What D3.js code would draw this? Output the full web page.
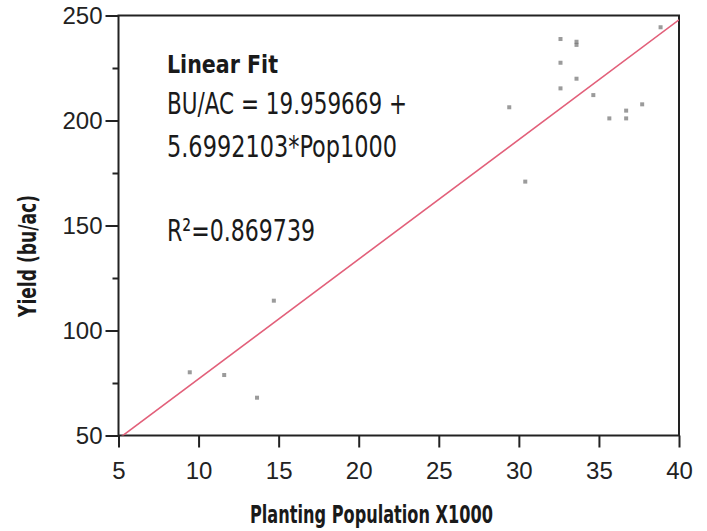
<!DOCTYPE html>
<html>
<head>
<meta charset="utf-8">
<script src="https://cdnjs.cloudflare.com/ajax/libs/d3/7.8.5/d3.min.js"></script>
<style>
  body { margin: 0; background: #fff; }
  .tickText { font-family: "Liberation Sans", Arial, sans-serif; font-size: 24px; fill: #222; }
  .narrow { font-family: "Liberation Sans Narrow", "DejaVu Sans Condensed", sans-serif; fill: #1a1a1a; }
</style>
</head>
<body>
<div id="scatter"></div>
<script>
// data
var popX = [9.45, 11.6, 13.65, 14.7, 29.4, 30.4, 32.6, 32.6, 32.6, 33.6, 33.6, 33.6, 34.65, 35.65, 36.7, 36.7, 37.7, 38.85];
var yieldY = [80.1, 78.8, 68.0, 114.2, 206.3, 170.9, 238.8, 227.5, 215.3, 237.5, 236.0, 219.9, 212.1, 201.0, 204.7, 201.0, 207.7, 244.4];

// fit from the annotation
var fitIntercept = 19.959669;
var fitSlope = 5.6992103;

var xTicks = [5, 10, 15, 20, 25, 30, 35, 40];
var yTicks = [50, 100, 150, 200, 250];
var yMinorTicks = [75, 125, 175, 225];

var svgWidth = 707;
var svgHeight = 531;

var margin = { top: 15.5, right: 28, bottom: 95.5, left: 118.5 };
var chartWidth = svgWidth - margin.left - margin.right;
var chartHeight = svgHeight - margin.top - margin.bottom;

var svg = d3.select("#scatter")
    .append("svg")
    .attr("width", svgWidth)
    .attr("height", svgHeight);

var chartGroup = svg.append("g")
    .attr("transform", `translate(${margin.left}, ${margin.top})`);

var xScale = d3.scaleLinear().domain([5, 40]).range([0, chartWidth]);
var yScale = d3.scaleLinear().domain([50, 250]).range([chartHeight, 0]);

// clip for the fit line
chartGroup.append("clipPath")
    .attr("id", "plotClip")
    .append("rect")
    .attr("width", chartWidth)
    .attr("height", chartHeight);

// axes
var xAxis = d3.axisBottom(xScale).tickValues(xTicks).tickSize(12).tickPadding(14.5).tickSizeOuter(0);
var yAxis = d3.axisLeft(yScale).tickValues(yTicks).tickSize(13).tickPadding(3).tickSizeOuter(0);
var yMinor = d3.axisLeft(yScale).tickValues(yMinorTicks).tickSize(6).tickFormat("").tickSizeOuter(0);

var gx = chartGroup.append("g")
    .attr("transform", `translate(0, ${chartHeight})`)
    .call(xAxis);
var gy = chartGroup.append("g").call(yAxis);
var gyMinor = chartGroup.append("g").call(yMinor);

[gx, gy, gyMinor].forEach(function (g) {
    g.select(".domain").remove();
    g.selectAll("line").attr("stroke", "#222").attr("stroke-width", 2);
    g.selectAll("text").attr("class", "tickText").attr("font-size", null).attr("font-family", null);
});

// frame round the plot
chartGroup.append("rect")
    .attr("width", chartWidth)
    .attr("height", chartHeight)
    .attr("fill", "none")
    .attr("stroke", "#222")
    .attr("stroke-width", 2);

// fit line
var fitLine = d3.line()
    .x(d => xScale(d))
    .y(d => yScale(fitIntercept + fitSlope * d));

chartGroup.append("path")
    .datum(xScale.domain())
    .attr("d", fitLine)
    .attr("clip-path", "url(#plotClip)")
    .attr("fill", "none")
    .attr("stroke", "#e2607a")
    .attr("stroke-width", 1.6);

// points
chartGroup.selectAll(null)
    .data(popX)
    .enter()
    .append("rect")
    .attr("x", d => xScale(d) - 2)
    .attr("y", (d, i) => yScale(yieldY[i]) - 2)
    .attr("width", 4)
    .attr("height", 4)
    .attr("fill", "#666")
    .attr("opacity", 0.65);

// annotation
var note = svg.append("g").attr("class", "narrow");

note.append("text")
    .attr("x", 167).attr("y", 73.3)
    .attr("font-size", 25).attr("font-weight", "bold")
    .attr("textLength", 111).attr("lengthAdjust", "spacingAndGlyphs")
    .text("Linear Fit");

note.append("text")
    .attr("x", 167).attr("y", 114.3)
    .attr("font-size", 31)
    .attr("textLength", 240).attr("lengthAdjust", "spacingAndGlyphs")
    .text("BU/AC = 19.959669 +");

note.append("text")
    .attr("x", 167).attr("y", 156.7)
    .attr("font-size", 31)
    .attr("textLength", 230).attr("lengthAdjust", "spacingAndGlyphs")
    .text("5.6992103*Pop1000");

note.append("text")
    .attr("x", 167).attr("y", 240.7)
    .attr("font-size", 31)
    .attr("textLength", 148).attr("lengthAdjust", "spacingAndGlyphs")
    .text("R\u00b2=0.869739");

// axis titles
svg.append("text")
    .attr("class", "narrow")
    .attr("x", 250).attr("y", 523)
    .attr("font-size", 25).attr("font-weight", "bold")
    .attr("textLength", 243).attr("lengthAdjust", "spacingAndGlyphs")
    .text("Planting Population X1000");

svg.append("text")
    .attr("class", "narrow")
    .attr("transform", "translate(36, 317) rotate(-90)")
    .attr("font-size", 24).attr("font-weight", "bold")
    .attr("textLength", 122).attr("lengthAdjust", "spacingAndGlyphs")
    .text("Yield (bu/ac)");
</script>
</body>
</html>
